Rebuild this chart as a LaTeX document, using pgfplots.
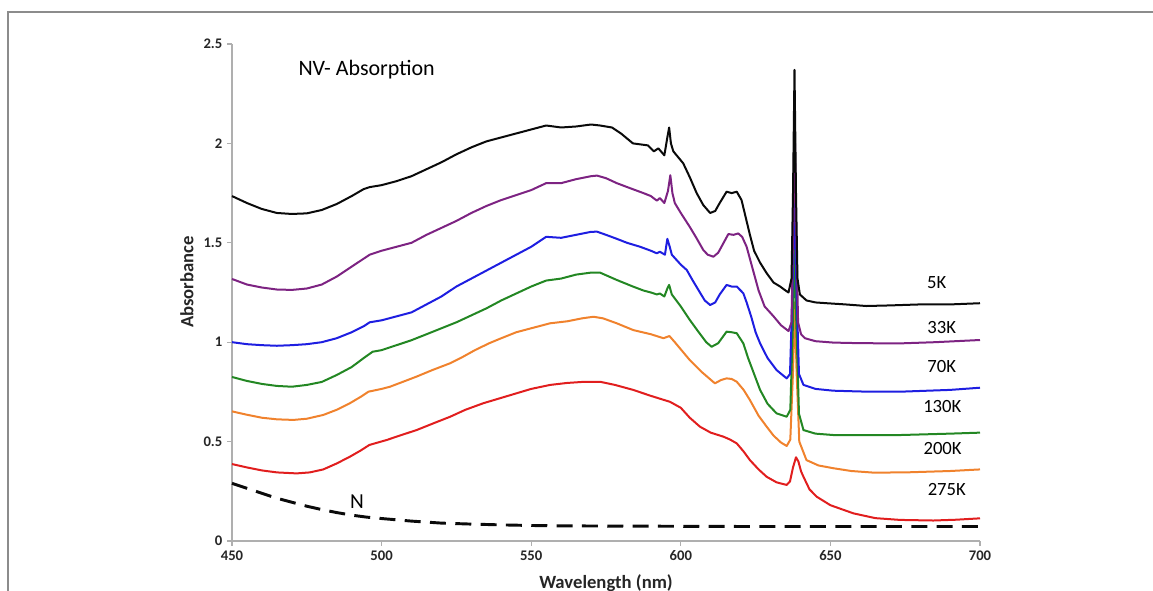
\documentclass[border=0pt]{standalone}
\usepackage{pgfplots}
\pgfplotsset{compat=1.18}
\usepackage{fontspec}
\setmainfont{Carlito}
\definecolor{cblack}{RGB}{10,10,10}
\definecolor{cpurple}{RGB}{125,35,130}
\definecolor{cblue}{RGB}{30,30,225}
\definecolor{cgreen}{RGB}{35,135,35}
\definecolor{corange}{RGB}{240,130,45}
\definecolor{cred}{RGB}{225,30,30}
\definecolor{frame}{RGB}{140,140,140}
\definecolor{axgray}{RGB}{175,175,175}
\begin{document}
\begin{tikzpicture}
\useasboundingbox (0,0) rectangle (864.75pt,443.25pt);
\draw[frame, line width=1.5pt] (6pt,-5pt) -- (6pt,434.25pt) -- (880pt,434.25pt);
\begin{axis}[
  at={(174pt,37.5pt)}, anchor=south west,
  scale only axis, width=561pt, height=372.75pt,
  xmin=450, xmax=700, ymin=0, ymax=2.5,
  axis lines=left, axis line style={-, axgray, line width=0.8pt},
  tick align=outside, major tick length=3.75pt,
  tick style={axgray, line width=0.8pt},
  xtick={450,500,...,700}, ytick={0,0.5,1,1.5,2,2.5},
  /pgf/number format/assume math mode=true,
  tick label style={font=\bfseries\fontsize{11}{13}\selectfont, text=black!85},
  clip=false,
  every axis plot/.append style={line width=1.5pt, line join=round},
]
% N (dashed)
\addplot[cblack, line width=2.2pt, dash pattern=on 12pt off 7pt] coordinates {
(450,0.29) (455,0.265) (460,0.24) (465,0.215) (470,0.195) (475,0.175) (480,0.158) (485,0.143) (490,0.13) (495,0.12) (500,0.113) (510,0.10) (520,0.09) (530,0.085) (540,0.081) (550,0.078) (560,0.076) (580,0.075) (600,0.074) (620,0.073) (640,0.073) (660,0.073) (680,0.073) (700,0.073)};
% 275K
\addplot[cred] coordinates {
(450,0.387) (455,0.37) (460,0.355) (465,0.345) (471.6,0.34) (476,0.345) (480.5,0.36) (485,0.39) (489.4,0.424) (493,0.455) (495.9,0.483) (501.7,0.508) (506,0.53) (511.7,0.558) (517,0.59) (522.9,0.625) (528,0.66) (534,0.693) (540,0.72) (545.1,0.743) (550,0.765) (556.3,0.785) (562,0.795) (567,0.80) (573,0.801) (578,0.785) (584.1,0.76) (590,0.73) (596.4,0.70) (600,0.67) (603,0.62) (606.4,0.575) (610,0.545) (614.2,0.525) (616.5,0.51) (618.7,0.491) (621,0.45) (623.1,0.407) (626,0.36) (628.7,0.323) (632,0.295) (635.4,0.282) (636.5,0.30) (637.5,0.37) (638.5,0.421) (639.3,0.40) (640.2,0.35) (641,0.323) (643,0.26) (645.4,0.223) (650,0.18) (657.7,0.139) (665,0.115) (673.3,0.106) (684.4,0.103) (692,0.107) (700,0.114)};
% 200K
\addplot[corange] coordinates {
(450,0.652) (455,0.635) (460,0.62) (465,0.612) (470.5,0.609) (475,0.615) (480.5,0.634) (485,0.66) (489.4,0.693) (493,0.725) (495.6,0.751) (500,0.765) (502.8,0.776) (507,0.80) (511.7,0.827) (517,0.86) (522.9,0.894) (527,0.925) (531.2,0.96) (536,0.995) (540,1.02) (545,1.05) (550,1.07) (556.3,1.095) (562,1.105) (567,1.12) (570.8,1.128) (574,1.12) (578.6,1.095) (584.1,1.061) (590,1.04) (594.2,1.02) (596.2,1.031) (598,1.00) (603,0.91) (607,0.85) (611.4,0.793) (613.5,0.81) (615.3,0.818) (617,0.815) (618.7,0.801) (621,0.76) (623.1,0.709) (626,0.63) (628.7,0.575) (631,0.53) (633.5,0.495) (635.4,0.478) (636.6,0.51) (637.5,0.85) (638.1,1.20) (638.7,0.85) (639.6,0.50) (642,0.407) (646,0.38) (651,0.366) (657,0.352) (664.3,0.344) (675,0.345) (690,0.352) (700,0.36)};
% 130K
\addplot[cgreen] coordinates {
(450,0.825) (455,0.805) (460,0.79) (465,0.78) (470,0.776) (475,0.785) (480,0.80) (485,0.835) (490,0.875) (494,0.92) (497,0.952) (500,0.96) (505,0.985) (510,1.01) (515,1.04) (520,1.07) (525,1.10) (530,1.135) (535,1.17) (540,1.21) (545,1.245) (550,1.28) (555,1.31) (560,1.32) (565,1.34) (570,1.35) (573,1.35) (578.6,1.313) (584,1.28) (587.5,1.26) (590,1.25) (592,1.24) (593,1.245) (594.5,1.23) (595.5,1.27) (596.1,1.288) (597,1.24) (598,1.22) (600,1.18) (603,1.112) (606,1.05) (608.5,1.00) (610.3,0.977) (612.5,0.995) (615.3,1.053) (617,1.05) (618.7,1.045) (620.9,0.994) (622.5,0.92) (624.5,0.84) (626.5,0.76) (629,0.69) (632,0.642) (635.4,0.625) (636.6,0.66) (637.5,1.1) (638,1.50) (638.6,1.1) (639.5,0.64) (641,0.558) (645,0.54) (651,0.533) (660,0.532) (673.3,0.533) (690,0.54) (700,0.545)};
% 70K
\addplot[cblue] coordinates {
(450,1.00) (455,0.99) (460,0.985) (465,0.982) (470,0.985) (475,0.99) (480,1.00) (485,1.02) (490,1.05) (494,1.08) (496,1.10) (500,1.11) (505,1.13) (510,1.15) (515,1.19) (520,1.23) (525,1.28) (530,1.32) (535,1.36) (540,1.40) (545,1.44) (550,1.48) (555,1.53) (560,1.525) (565,1.54) (570,1.555) (572,1.556) (575,1.54) (578.6,1.52) (582,1.50) (586.4,1.48) (590,1.46) (592,1.447) (593,1.455) (594.7,1.44) (595.5,1.52) (596.3,1.48) (597,1.44) (600,1.39) (602,1.363) (604,1.31) (606,1.26) (608,1.21) (609.8,1.187) (611.5,1.20) (613,1.24) (615.3,1.288) (617,1.28) (618.7,1.28) (620.9,1.246) (622,1.20) (623.5,1.13) (625,1.05) (626.5,0.994) (629,0.92) (632,0.86) (634,0.835) (635.4,0.818) (636.5,0.84) (637.4,1.30) (638,1.85) (638.6,1.30) (639.5,0.84) (641,0.785) (645,0.765) (651,0.756) (660,0.752) (673.3,0.751) (690,0.76) (700,0.771)};
% 33K
\addplot[cpurple] coordinates {
(450,1.318) (455,1.29) (460,1.275) (465,1.265) (470,1.263) (475,1.27) (480,1.29) (485,1.33) (490,1.38) (494,1.42) (496,1.44) (500,1.46) (505,1.48) (510,1.50) (515,1.54) (520,1.575) (525,1.61) (530,1.65) (535,1.685) (540,1.715) (545,1.74) (550,1.765) (555,1.80) (560,1.80) (565,1.82) (570,1.835) (572,1.838) (575,1.825) (578.6,1.80) (583,1.775) (587.5,1.75) (590,1.735) (592,1.712) (593,1.725) (594.5,1.70) (595.7,1.76) (596.5,1.84) (597.2,1.75) (598,1.70) (600,1.65) (603,1.58) (605,1.53) (607.5,1.464) (609,1.44) (610.9,1.43) (612.5,1.45) (614.2,1.497) (615.9,1.544) (617.6,1.54) (619.2,1.547) (620.5,1.53) (622,1.48) (624,1.37) (626,1.26) (628,1.18) (631,1.13) (633.5,1.085) (636,1.056) (637,1.10) (637.6,1.60) (638,2.20) (638.5,1.60) (639.2,1.10) (640.2,1.04) (641.5,1.02) (645,1.005) (651,0.998) (660,0.995) (673.3,0.994) (685,1.00) (700,1.011)};
% 5K
\addplot[cblack] coordinates {
(450,1.735) (455,1.70) (460,1.67) (465,1.65) (470,1.645) (475,1.648) (480,1.665) (485,1.695) (490,1.735) (494,1.77) (496,1.78) (500,1.79) (505,1.81) (510,1.835) (515,1.87) (520,1.905) (525,1.945) (530,1.98) (535,2.01) (540,2.03) (545,2.05) (550,2.07) (555,2.09) (560,2.08) (565,2.085) (570,2.095) (573,2.09) (577,2.08) (580,2.05) (584,2.00) (589,1.99) (591,1.96) (592.5,1.975) (594.5,1.94) (595.5,2.03) (596.1,2.08) (596.7,2.00) (597.5,1.96) (600.8,1.90) (603,1.83) (605.3,1.75) (607.5,1.69) (609.8,1.65) (611.5,1.66) (613,1.70) (615.3,1.757) (617,1.75) (618.7,1.757) (620.3,1.715) (621.5,1.64) (623.1,1.54) (624.5,1.46) (626.5,1.40) (628.7,1.347) (631,1.30) (633.2,1.28) (635,1.26) (636,1.25) (637,1.32) (637.5,1.75) (638,2.37) (638.5,1.75) (639,1.32) (639.8,1.24) (642,1.21) (645,1.20) (648.8,1.196) (655,1.19) (662,1.182) (670,1.185) (680,1.19) (690,1.19) (700,1.196)};
% annotations
\node[font=\fontsize{16.5}{19}\selectfont] at (axis cs:495,2.373) {NV- Absorption};
\node[font=\fontsize{16}{19}\selectfont] at (axis cs:491.8,0.20) {N};
\node[font=\fontsize{14}{17}\selectfont] at (axis cs:685.5,1.301) {5K};
\node[font=\fontsize{14}{17}\selectfont] at (axis cs:687.2,1.075) {33K};
\node[font=\fontsize{14}{17}\selectfont] at (axis cs:687.2,0.877) {70K};
\node[font=\fontsize{14}{17}\selectfont] at (axis cs:687.4,0.676) {130K};
\node[font=\fontsize{14}{17}\selectfont] at (axis cs:687.5,0.466) {200K};
\node[font=\fontsize{14}{17}\selectfont] at (axis cs:688.9,0.257) {275K};
% axis titles
\node[font=\bfseries\fontsize{14}{17}\selectfont, text=black!85] at (axis cs:575,-0.211) {Wavelength (nm)};
\node[font=\bfseries\fontsize{14}{17}\selectfont, text=black!85, rotate=90] at (axis cs:434.96,1.303) {Absorbance};
\end{axis}
\end{tikzpicture}
\end{document}
